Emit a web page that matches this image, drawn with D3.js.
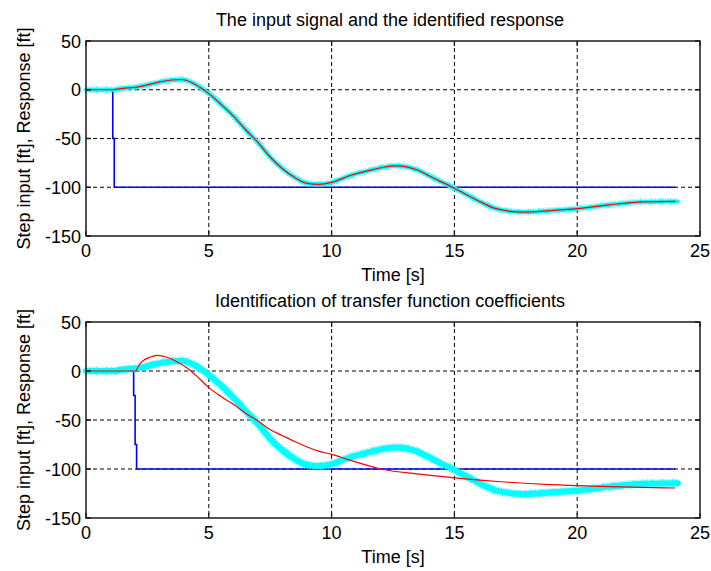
<!DOCTYPE html>
<html>
<head>
<meta charset="utf-8">
<style>
  body { margin: 0; background: #fff; }
  svg text { font-family: "Liberation Sans", Arial, sans-serif; fill: #000; }
</style>
</head>
<body>
<svg width="711" height="571"></svg>
<script src="https://d3js.org/d3.v7.min.js"></script>
<script>
// ---- data ----
const timeTicks = [0, 5, 10, 15, 20, 25];
const valueTicks = [50, 0, -50, -100, -150];
const gridTimes = [5, 10, 15, 20];
const gridValues = [0, -50, -100];

const panelTitles = [
  "The input signal and the identified response",
  "Identification of transfer function coefficients"
];
const xLabel = "Time [s]";
const yLabel = "Step input [ft], Response [ft]";

// step input (blue), top and bottom panels
const stepTopT = [0, 1.09, 1.09, 1.15, 1.15, 24];
const stepTopV = [0, 0, -50, -50, -100, -100];
const stepBotT = [0, 1.94, 1.94, 2.0, 2.0, 2.06, 2.06, 24];
const stepBotV = [0, 0, -25, -25, -75, -75, -100, -100];

// measured response (cyan)
const measT = [0, 1.1, 1.5, 2, 2.5, 3, 3.5, 3.9, 4.3, 4.7, 5, 5.5, 6, 6.5, 7, 7.5, 8, 8.5, 9, 9.5, 10,
  10.75, 11.5, 12.1, 12.65, 13.46, 14.14, 15, 15.9, 16.7, 17.8, 18.9, 20, 21.3, 22.7, 24.1];
const measV = [0, 0, 1.5, 2.5, 5, 8, 10, 10.5, 7.5, 1.5, -4, -15, -27, -41, -54, -69, -81, -90, -96, -97, -95,
  -88, -83, -79.5, -78, -82, -90.5, -101, -113, -122, -125.5, -124, -122, -118, -115, -114.5];

// identified response, top panel (red, follows measured data)
const fitTopT = measT.slice(0, -1).concat([24]);
const fitTopV = measV.slice(0, -1).concat([-114.5]);

// transfer function fit, bottom panel (red)
const fitBotT = [0, 2.04, 2.1, 2.3, 2.6, 2.9, 3.3, 3.7, 4.1, 4.5, 5, 5.5, 6, 6.5, 7, 7.5, 8, 8.5, 9, 9.5, 10,
  10.75, 12.1, 13.46, 15, 16.9, 18.9, 20.9, 24];
const fitBotV = [0, 0, 3.4, 10, 14, 16, 14, 9.5, 3.4, -5, -17, -26, -34, -43, -51, -60, -66, -72, -77.5, -82, -85,
  -91, -100.5, -105, -109, -113, -116, -117.7, -119.4];

const zip = (a, b) => a.map((d, i) => [d, b[i]]);

const svg = d3.select("svg");
const fontSize = "18px";

function drawPanel(cfg) {
  const x = d3.scaleLinear().domain([0, 25]).range([cfg.left, cfg.right]);
  const y = d3.scaleLinear().domain([-150, 50]).range([cfg.bottom, cfg.top]);
  const g = svg.append("g");

  // grid
  g.selectAll(".gx").data(gridTimes).enter().append("line")
    .attr("x1", d => x(d)).attr("x2", d => x(d))
    .attr("y1", cfg.top).attr("y2", cfg.bottom)
    .attr("stroke", "#000").attr("stroke-width", 1).attr("stroke-dasharray", "4,3");
  g.selectAll(".gy").data(gridValues).enter().append("line")
    .attr("x1", cfg.left).attr("x2", cfg.right)
    .attr("y1", d => y(d)).attr("y2", d => y(d))
    .attr("stroke", "#000").attr("stroke-width", 1).attr("stroke-dasharray", "4,3");

  const lin = d3.line().x(d => x(d[0])).y(d => y(d[1]));
  const smooth = d3.line().x(d => x(d[0])).y(d => y(d[1])).curve(d3.curveMonotoneX);

  // step input
  g.append("path").attr("d", lin(cfg.step))
    .attr("fill", "none").attr("stroke", "#0000ff").attr("stroke-width", 1.6);

  // measured response: thick cyan band with ragged edge
  const meas = zip(measT, measV);
  g.append("path").attr("d", smooth(meas))
    .attr("fill", "none").attr("stroke", "#00ffff").attr("stroke-width", cfg.band)
    .attr("stroke-linejoin", "round").attr("stroke-linecap", "round");
  g.append("path").attr("d", smooth(meas))
    .attr("fill", "none").attr("stroke", "#00ffff").attr("stroke-width", cfg.band + 2.5)
    .attr("stroke-dasharray", "1,1.5").attr("opacity", 0.8);

  // fitted response
  g.append("path").attr("d", smooth(cfg.fit))
    .attr("fill", "none").attr("stroke", "#ff0000").attr("stroke-width", 1.2);

  // box
  g.append("rect")
    .attr("x", cfg.left).attr("y", cfg.top)
    .attr("width", cfg.right - cfg.left).attr("height", cfg.bottom - cfg.top)
    .attr("fill", "none").attr("stroke", "#1a1a1a").attr("stroke-width", 1.5);

  // inward ticks
  const tl = 5;
  g.selectAll(".tb").data(timeTicks).enter().append("path")
    .attr("d", d => `M${x(d)},${cfg.bottom}v${-tl}M${x(d)},${cfg.top}v${tl}`)
    .attr("stroke", "#1a1a1a").attr("stroke-width", 1.3);
  g.selectAll(".tl").data(valueTicks).enter().append("path")
    .attr("d", d => `M${cfg.left},${y(d)}h${tl}M${cfg.right},${y(d)}h${-tl}`)
    .attr("stroke", "#1a1a1a").attr("stroke-width", 1.3);

  // tick labels
  g.selectAll(".xt").data(timeTicks).enter().append("text")
    .attr("x", d => x(d)).attr("y", cfg.bottom + 21)
    .attr("text-anchor", "middle").style("font-size", fontSize)
    .text(d => d);
  g.selectAll(".yt").data(valueTicks).enter().append("text")
    .attr("x", cfg.left - 5).attr("y", d => y(d) + 6.5)
    .attr("text-anchor", "end").style("font-size", fontSize)
    .text(d => d);

  // labels
  g.append("text")
    .attr("x", (cfg.left + cfg.right) / 2).attr("y", cfg.bottom + 44.5)
    .attr("text-anchor", "middle").style("font-size", fontSize)
    .text(xLabel);
  g.append("text")
    .attr("transform", `translate(30,${(cfg.top + cfg.bottom) / 2}) rotate(-90)`)
    .attr("text-anchor", "middle").style("font-size", fontSize)
    .text(yLabel);
  g.append("text")
    .attr("x", (cfg.left + cfg.right) / 2 - 3).attr("y", cfg.top - 15.5)
    .attr("text-anchor", "middle").style("font-size", fontSize)
    .text(cfg.title);
}

drawPanel({
  left: 86, right: 700, top: 41, bottom: 236, band: 4,
  title: panelTitles[0],
  step: zip(stepTopT, stepTopV),
  fit: zip(fitTopT, fitTopV)
});
drawPanel({
  left: 86, right: 700, top: 322, bottom: 518, band: 6,
  title: panelTitles[1],
  step: zip(stepBotT, stepBotV),
  fit: zip(fitBotT, fitBotV)
});
</script>
</body>
</html>
